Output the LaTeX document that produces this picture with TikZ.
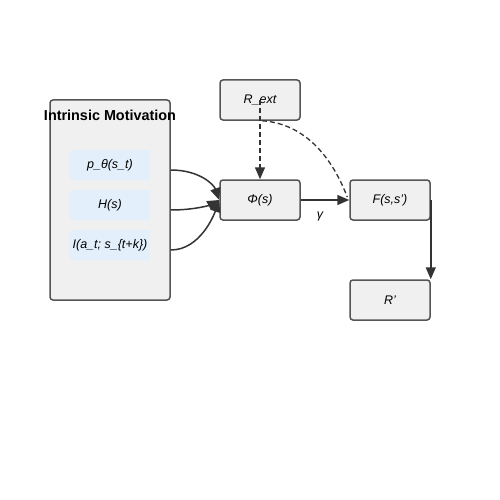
\documentclass[tikz,border=0pt]{standalone}
\usepackage{fontspec}
\setmainfont{Liberation Sans}
\usetikzlibrary{arrows.meta,calc}
\definecolor{boxfill}{HTML}{F0F0F0}
\definecolor{boxline}{HTML}{555555}
\definecolor{subfill}{HTML}{E3F0FC}
\definecolor{edge}{HTML}{333333}
\tikzset{
  box/.style={draw=boxline, fill=boxfill, line width=1.5pt, rounded corners=3pt, minimum width=80pt, minimum height=40pt, inner sep=0pt, font=\itshape\fontsize{12.5}{14}\selectfont},
  sub/.style={fill=subfill, rounded corners=2pt, minimum width=80pt, minimum height=30pt, inner sep=0pt, font=\itshape\fontsize{12.5}{14}\selectfont},
  conn/.style={draw=edge, line width=1.5pt, -{Triangle[length=12pt,width=10pt]}},
  dash5/.style={dash pattern=on 5pt off 3pt},
}
\begin{document}
\begin{tikzpicture}[x=1pt,y=-1pt]
\useasboundingbox (0,0) rectangle (500,500);
\node[box, minimum width=120pt, minimum height=200pt] (im) at (110,200) {};
\node[font=\bfseries\fontsize{14.4}{16}\selectfont] (imt) at (110,115) {Intrinsic Motivation};
\node[sub] (p1) at (110,165) {p\_θ(s\_t)};
\node[sub] (p2) at (110,205) {H(s)};
\node[sub] (p3) at (110,245) {I(a\_t; s\_\{t+k\})};
\node[box] (rext) at (260,100) {R\_ext};
\node[box] (phi) at (260,200) {Φ(s)};
\node[box] (f) at (390,200) {F(s,s')};
\node[box] (r) at (390,300) {R'};
\coordinate (s1) at ($(im.east |- p1)+(0,5)$);
\coordinate (s2) at ($(im.east |- p2)+(0,5)$);
\coordinate (s3) at ($(im.east |- p3)+(0,5)$);
\draw[conn] (s1) .. controls (200,170) and (214,185) .. (phi.west);
\draw[conn] (s2) .. controls (195,210) and (210,205) .. (phi.west);
\draw[conn] (s3) .. controls (200,250) and (214,215) .. (phi.west);
\draw[conn, dash5] (rext.center) -- (phi.north);
\draw[draw=edge, line width=1.3pt, dash5] ($(rext.south)+(2,0)$) .. controls (310,124) and (335,165) .. ($(f.west)+(-2,-3)$);
\draw[conn] (phi.east) -- (f.west);
\node[font=\itshape\fontsize{12.5}{14}\selectfont] (g) at (320,216) {γ};
\draw[conn] (f.east) -- (r.north east);
\end{tikzpicture}
\end{document}
